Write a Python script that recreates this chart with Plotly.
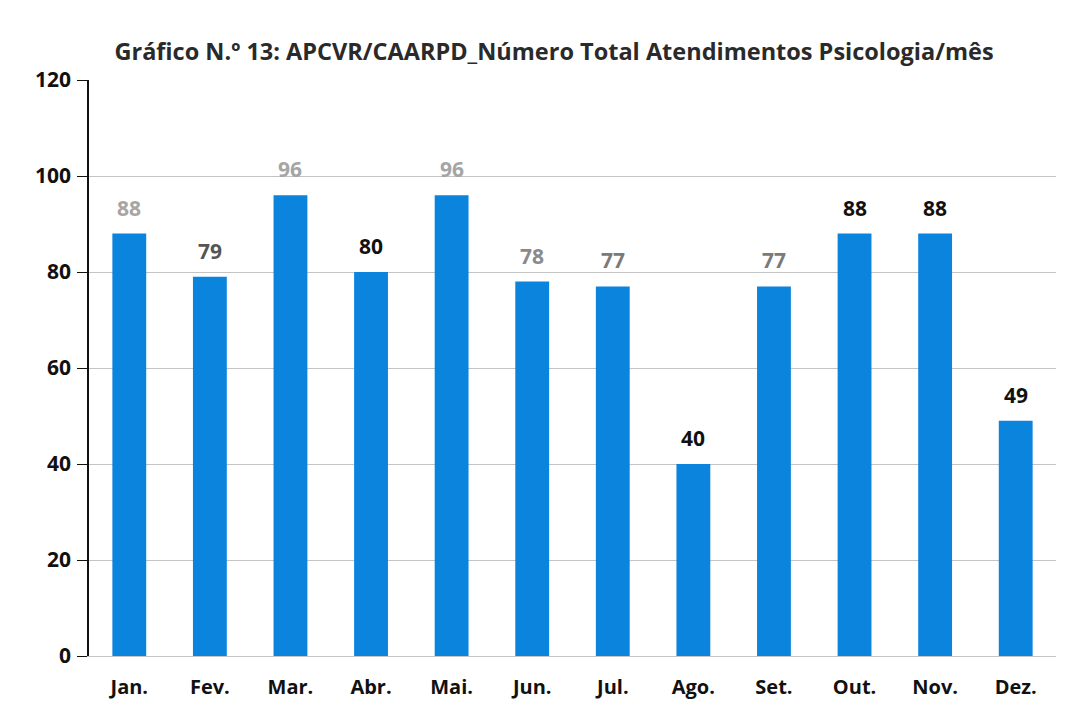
import plotly.graph_objects as go

months = ["Jan.", "Fev.", "Mar.", "Abr.", "Mai.", "Jun.", "Jul.", "Ago.", "Set.", "Out.", "Nov.", "Dez."]
values = [88, 79, 96, 80, 96, 78, 77, 40, 77, 88, 88, 49]
label_colors = ["#a5a5a5", "#555555", "#a5a5a5", "#111111", "#a5a5a5", "#8a8a8a",
                "#7a7a7a", "#111111", "#7a7a7a", "#111111", "#111111", "#111111"]
title = "Gráfico N.º 13: APCVR/CAARPD_Número Total Atendimentos Psicologia/mês"
y_ticks = [0, 20, 40, 60, 80, 100, 120]

fig = go.Figure(go.Bar(
    x=months, y=values,
    marker=dict(color="#0b84dd", line=dict(width=0)),
    hoverinfo="x+y",
))

for m, v, c in zip(months, values, label_colors):
    fig.add_annotation(
        x=m, y=v, xref="x", yref="y", text="<b>" + str(v) + "</b>",
        showarrow=False, yanchor="middle", yshift=26,
        font=dict(family="Open Sans", size=21, color=c),
    )

fig.update_layout(
    width=1077, height=714,
    margin=dict(l=81, r=29, t=72, b=66),
    paper_bgcolor="white", plot_bgcolor="white",
    bargap=0.58,
    showlegend=False,
    title=dict(text="<b>" + title + "</b>", x=0.507, xanchor="center", y=0.938, yanchor="middle",
               font=dict(family="Open Sans", size=23.5, color="#2a2a2a")),
    font=dict(family="Open Sans", color="#111111"),
)
fig.update_yaxes(
    range=[0, 120], tickvals=y_ticks, showgrid=True, gridcolor="#c4c4c4", gridwidth=1,
    showline=True, linecolor="#111111", linewidth=1.5,
    ticks="outside", ticklen=10, tickcolor="#111111",
    tickfont=dict(family="Open Sans", size=21, color="#111111", weight="bold"), ticklabelstandoff=2,
    zeroline=False,
)
fig.update_xaxes(
    showline=True, linecolor="#c4c4c4", linewidth=1,
    tickfont=dict(family="Open Sans", size=20, color="#111111", weight="bold"),
    ticks="", ticklabelstandoff=13,
)
fig.write_html("out.html")
